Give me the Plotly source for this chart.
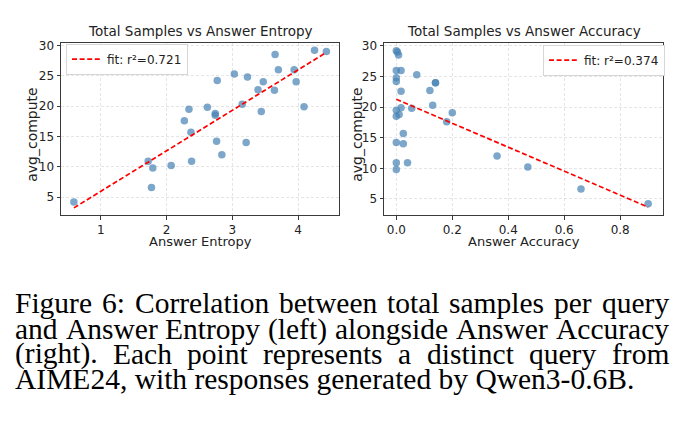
import numpy as np
import plotly.graph_objects as go

# ---- data (one entry per AIME24 query) ----
avg_compute = [4.2, 6.6, 9.8, 10.2, 10.9, 10.9, 12.0, 14.2, 14.0, 15.7,
               17.6, 18.5, 18.8, 19.1, 19.5, 19.8, 19.9, 20.3, 22.6, 22.7,
               24.0, 24.0, 24.2, 24.8, 25.3, 26.0, 26.0, 28.5, 29.0, 29.2]
answer_entropy = [0.59, 1.77, 1.79, 2.07, 1.72, 2.38, 2.84, 2.76, 3.21, 2.37,
                  2.27, 2.74, 2.74, 3.44, 2.34, 2.62, 4.09, 3.15, 3.64, 3.39,
                  3.47, 3.97, 2.77, 3.23, 3.03, 3.70, 3.94, 3.65, 4.43, 4.25]
answer_accuracy = [0.90, 0.66, 0.0, 0.47, 0.0, 0.04, 0.36, 0.0, 0.025, 0.025,
                   0.18, 0.0, 0.01, 0.20, 0.0, 0.055, 0.017, 0.13, 0.017, 0.12,
                   0.14, 0.14, 0.0, 0.0, 0.073, 0.0, 0.017, 0.008, 0.004, 0.0]
fit_labels = ["fit: r\u00b2=0.721", "fit: r\u00b2=0.374"]
titles = ["Total Samples vs Answer Entropy", "Total Samples vs Answer Accuracy"]
xtitles = ["Answer Entropy", "Answer Accuracy"]
ytitle = "avg_compute"
caption_lines = [
    "Figure 6: Correlation between total samples per query",
    "and Answer Entropy (left) alongside Answer Accuracy",
    "(right).  Each point represents a distinct query from",
    "AIME24, with responses generated by Qwen3-0.6B.",
]

W, H = 688, 439
px = lambda x: x / W
py = lambda y: 1 - y / H

fig = go.Figure()

MARK = dict(color="#4682B4", size=7.5, opacity=0.7, line=dict(width=0))
for i, xs in enumerate([answer_entropy, answer_accuracy]):
    xa = "x" if i == 0 else "x2"
    ya = "y" if i == 0 else "y2"
    fig.add_trace(go.Scatter(x=xs, y=avg_compute, mode="markers", marker=MARK,
                             xaxis=xa, yaxis=ya, showlegend=False))
    k, b = np.polyfit(np.array(xs), np.array(avg_compute), 1)
    xl = np.array([min(xs), max(xs)])
    fig.add_trace(go.Scatter(x=xl, y=k * xl + b, mode="lines",
                             line=dict(color="red", width=1.7, dash="5px,2.6px"),
                             name=fit_labels[i], xaxis=xa, yaxis=ya,
                             legend="legend" if i == 0 else "legend2"))

ax_common = dict(showline=True, mirror=True, linecolor="#3a3a3a", linewidth=1,
                 ticks="outside", ticklen=3.5, tickcolor="#3a3a3a",
                 showgrid=True, gridcolor="rgba(170,170,170,0.3)", griddash="3px,2px",
                 gridwidth=0.8, zeroline=False,
                 tickfont=dict(family="DejaVu Sans", size=12, color="#222"))

LEG = dict(bgcolor="white", bordercolor="#d6d6d6", borderwidth=1,
           font=dict(family="DejaVu Sans", size=12, color="#222"),
           itemwidth=30, tracegroupgap=0)
fig.update_layout(
    width=W, height=H, margin=dict(l=0, r=0, t=0, b=0),
    paper_bgcolor="white", plot_bgcolor="white",
    xaxis=dict(domain=[px(61), px(339)], range=[0.394, 4.622],
               tickvals=[1, 2, 3, 4], anchor="y", **ax_common),
    yaxis=dict(domain=[py(213), py(39)], range=[2.06, 30.45],
               tickvals=[5, 10, 15, 20, 25, 30], anchor="x", **ax_common),
    xaxis2=dict(domain=[px(384), px(663)], range=[-0.044, 0.953],
                tickvals=[0, 0.2, 0.4, 0.6, 0.8], ticktext=["0.0", "0.2", "0.4", "0.6", "0.8"],
                anchor="y2", **ax_common),
    yaxis2=dict(domain=[py(213), py(39)], range=[2.36, 30.54],
                tickvals=[5, 10, 15, 20, 25, 30], anchor="x2", **ax_common),
    legend=dict(x=px(66), y=py(40), xanchor="left", yanchor="top", **LEG),
    legend2=dict(x=px(665), y=py(41), xanchor="right", yanchor="top", **LEG),
)

ann = []
for cx, t, xt in [(200, titles[0], xtitles[0]), (523.5, titles[1], xtitles[1])]:
    ann.append(dict(x=px(cx), y=py(27), text=t, showarrow=False, xref="paper", yref="paper",
                    xanchor="center", yanchor="middle",
                    font=dict(family="DejaVu Sans", size=13.5, color="#222")))
    ann.append(dict(x=px(cx), y=py(240), text=xt, showarrow=False, xref="paper", yref="paper",
                    xanchor="center", yanchor="middle",
                    font=dict(family="DejaVu Sans", size=13, color="#222")))
for cx in [32, 357]:
    ann.append(dict(x=px(cx), y=py(132), text=ytitle, showarrow=False, xref="paper", yref="paper",
                    xanchor="center", yanchor="middle", textangle=-90,
                    font=dict(family="DejaVu Sans", size=14, color="#222")))

# ---- justified caption (Times metrics, Liberation Serif is metric compatible) ----
TW = {" ": 250, "(": 333, ")": 333, ".": 250, ",": 250, ":": 278, "-": 333,
      "A": 722, "B": 667, "C": 667, "E": 611, "F": 556, "I": 333, "M": 889, "Q": 722,
      "a": 444, "b": 500, "c": 444, "d": 500, "e": 444, "f": 333, "g": 500, "h": 500,
      "i": 278, "l": 278, "m": 778, "n": 500, "o": 500, "p": 500, "q": 500, "r": 333,
      "s": 389, "t": 278, "u": 500, "w": 722, "y": 500}
def tw(s, fs):
    return sum(TW.get(c, 500) for c in s) * fs / 1000

FS = 29.5
left, right = 14, 668
line_y = [302, 328, 353, 378]
cap_font = dict(family="Liberation Serif", size=FS, color="black")
for li, line in enumerate(caption_lines):
    if li == len(caption_lines) - 1:
        ann.append(dict(x=px(left), y=py(line_y[li]), text=line, showarrow=False,
                        xref="paper", yref="paper", xanchor="left", yanchor="middle",
                        font=cap_font, borderpad=0))
        continue
    words = line.split()
    widths = [tw(w, FS) for w in words]
    gap = (right - left - sum(widths)) / (len(words) - 1)
    x = left
    for w, wd in zip(words, widths):
        ann.append(dict(x=px(x), y=py(line_y[li]), text=w, showarrow=False,
                        xref="paper", yref="paper", xanchor="left", yanchor="middle",
                        font=cap_font, borderpad=0))
        x += wd + gap

fig.update_layout(annotations=ann)
fig.write_html("out.html")
